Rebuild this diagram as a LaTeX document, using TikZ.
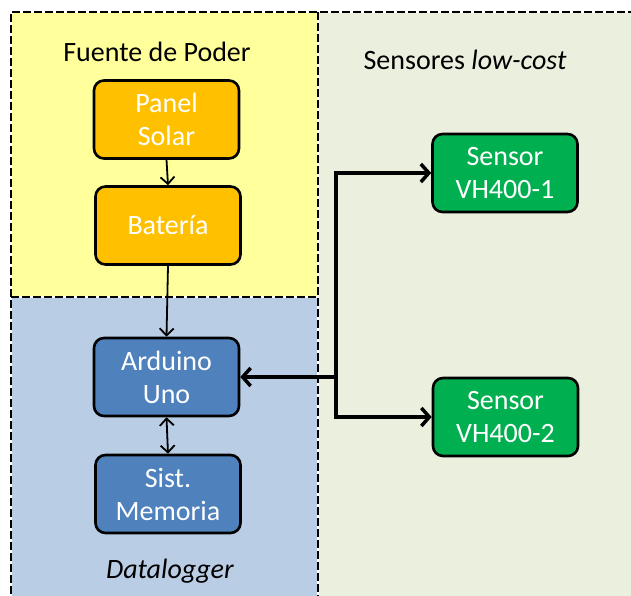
\documentclass[tikz,border=0pt]{standalone}
\usepackage{fontspec}
\setmainfont{Carlito}
\usetikzlibrary{arrows.meta}
\definecolor{ylw}{HTML}{FFFF9B}
\definecolor{bluebg}{HTML}{B9CDE5}
\definecolor{greenbg}{HTML}{EBEFDE}
\definecolor{orangebox}{HTML}{FFC000}
\definecolor{bluebox}{HTML}{4F81BD}
\definecolor{greenbox}{HTML}{00B050}
\tikzset{
  blk/.style={draw=black, line width=2.6pt, rounded corners=10pt, inner sep=0pt,
    minimum width=145pt, minimum height=78pt, text=white, align=center,
    font=\fontsize{28}{33}\selectfont},
  thinarrow/.style={line width=1.8pt, -{Straight Barb[length=7pt,width=14pt,line width=1.8pt]}},
  thickarrow/.style={line width=3.5pt, -{Straight Barb[length=8pt,width=18pt,line width=3.5pt]}},
  brd/.style={line width=2.8pt},
  brddash/.style={line width=2.8pt, dash pattern=on 8pt off 3pt},
  lbl/.style={font=\fontsize{28}{33}\selectfont, text=black}
}
\begin{document}
\begin{tikzpicture}[x=1pt,y=1pt]
\useasboundingbox (0,0) rectangle (631,595);
\clip (0,0) rectangle (631,595);
\fill[white] (0,0) rectangle (631,595);
% backgrounds
\fill[greenbg] (318,-10) rectangle (650,583);
\fill[ylw] (11,298) rectangle (318,583);
\fill[bluebg] (11,-10) rectangle (318,298);
% borders (white underlay + dashed black)
\draw[brd, white] (11,-10) -- (11,583) -- (650,583);
\draw[brd, white] (318,583) -- (318,-10);
\draw[brd, white] (11,298) -- (318,298);
\draw[brddash] (11,-10) -- (11,583) -- (650,583);
\draw[brddash] (318,583) -- (318,-10);
\draw[brddash] (11,298) -- (318,298);
% titles
\node[lbl] (tfuente) at (157,543) {Fuente de Poder};
\node[lbl] (tsens) at (465,535) {Sensores \textit{low-cost}};
\node[lbl] (tdata) at (170,24) {\textit{Datalogger}};
% boxes
\node[blk, fill=orangebox] (panel) at (166.5,475.5) {Panel\\Solar};
\node[blk, fill=orangebox] (bat) at (168,369.5) {Batería};
\node[blk, fill=bluebox] (ard) at (166.5,218) {Arduino\\Uno};
\node[blk, fill=bluebox] (mem) at (168,101) {Sist.\\Memoria};
\node[blk, fill=greenbox] (s1) at (505,422) {Sensor\\VH400-1};
\node[blk, fill=greenbox] (s2) at (505.5,178) {Sensor\\VH400-2};
% connectors
\draw[thinarrow] (panel.south) -- (bat.north);
\draw[thinarrow] (bat.south) -- (ard.north);
\draw[line width=1.8pt, {Straight Barb[length=7pt,width=14pt,line width=1.8pt]}-{Straight Barb[length=7pt,width=14pt,line width=1.8pt]}] (ard.south) -- (mem.north);
\coordinate (j1) at (336,422);
\coordinate (j2) at (336,178);
\coordinate (jm) at (336,218);
\draw[line width=3.5pt, line cap=rect] (j1) -- (j2);
\draw[thickarrow] (j1) -- (s1.west);
\draw[thickarrow] (j2) -- (s2.west);
\draw[thickarrow] (jm) -- (ard.east);
\end{tikzpicture}
\end{document}
